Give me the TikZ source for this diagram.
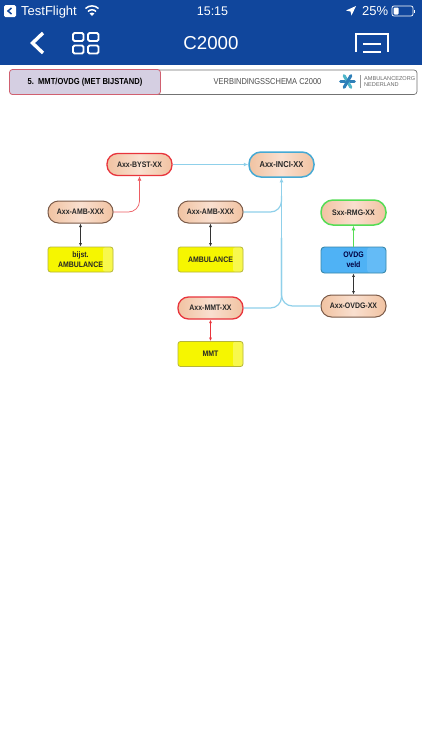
\documentclass[tikz,border=0pt]{standalone}
\usepackage{fontspec}
\setmainfont{Liberation Sans}
\newfontfamily\narrowfont[FakeStretch=0.87]{Liberation Sans}
\usetikzlibrary{arrows.meta,calc}
\definecolor{barblue}{HTML}{10469C}
\definecolor{peach}{HTML}{F1C3A2}
\definecolor{peachlight}{HTML}{F9DFCF}
\definecolor{redline}{HTML}{E8343C}
\definecolor{blueline}{HTML}{45A9D4}
\definecolor{paleblue}{HTML}{8FD0EA}
\definecolor{greenline}{HTML}{55DC55}
\definecolor{brownline}{HTML}{7A5A48}
\definecolor{yel}{HTML}{F6F600}
\definecolor{yelline}{HTML}{B5B53A}
\definecolor{skyb}{HTML}{4FB2F5}
\definecolor{headfill}{HTML}{D5CFE2}
\definecolor{headline}{HTML}{D06070}
\definecolor{logoblue}{HTML}{2E7FB8}
\definecolor{logoteal}{HTML}{4FB5C8}
\tikzset{
  x=1pt,y=-1pt,
  lbl/.style={font=\fontsize{8}{9}\narrowfont\bfseries,text=black!85,align=center,inner sep=0pt},
  pill/.style={lbl,rounded corners=10.5pt,minimum width=65pt,minimum height=22pt,line width=1pt,draw=brownline,
    left color=peach,right color=peach,middle color=peachlight},
  pillred/.style={pill,draw=redline,line width=1.3pt},
  pillblue/.style={pill,draw=blueline,line width=1.5pt,minimum height=25pt,rounded corners=12pt,font=\fontsize{8.6}{10}\narrowfont\bfseries},
  pillgreen/.style={pill,draw=greenline,line width=1.5pt,minimum height=25pt,rounded corners=12pt},
  yellowbox/.style={lbl,rounded corners=2.5pt,minimum width=65pt,minimum height=25pt,line width=.8pt,draw=yelline,fill=yel,
    path picture={\fill[white,opacity=.3] ([xshift=-10pt]path picture bounding box.north east) rectangle (path picture bounding box.south east);}},
  bluebox/.style={lbl,rounded corners=3.5pt,minimum width=65pt,minimum height=26pt,line width=.9pt,draw=blueline!80!black,fill=skyb,text=black!75!blue,
    path picture={\fill[white,opacity=.12] ([xshift=-19pt]path picture bounding box.north east) rectangle (path picture bounding box.south east);}},
  conblack/.style={draw=black!80,line width=.7pt,{Latex[length=3.5pt,width=3pt]}-{Latex[length=3.5pt,width=3pt]}},
  conred/.style={draw=redline!80,line width=.7pt,-{Latex[length=4.5pt,width=4pt]},rounded corners=11pt},
  conblue/.style={draw=paleblue,line width=1.2pt,rounded corners=11pt},
  conbluearrow/.style={draw=paleblue,line width=1.2pt,-{Latex[length=4.5pt,width=4pt,fill=blueline]}},
  icon/.style={draw=white,line width=1.9pt,rounded corners=1.5pt},
  bartext/.style={text=white,inner sep=0pt,anchor=base},
  petal/.style={line width=3pt,line cap=round},
}
\begin{document}
\begin{tikzpicture}
\useasboundingbox (0,0) rectangle (422,750);
\fill[white] (0,0) rectangle (422,750);
\fill[barblue] (0,0) rectangle (422,65);
% status bar
\fill[white,rounded corners=1.5pt] (4,5) rectangle (16,17);
\draw[barblue,line width=1.5pt] (11.5,8) -- (8,11) -- (11.5,14);
\node[bartext,anchor=base west,font=\fontsize{13}{15}\selectfont] (tf) at (21,15.5) {TestFlight};
\draw[white,line width=1.5pt] (85.5,8.5) .. controls (89,5) and (95,5) .. (98.5,8.5);
\draw[white,line width=1.5pt] (88,11.5) .. controls (90,9.2) and (94,9.2) .. (96,11.5);
\fill[white] (92,16) -- (89.6,13.3) .. controls (91,12.3) and (93,12.3) .. (94.4,13.3) -- cycle;
\node[bartext,font=\fontsize{12.5}{15}\selectfont] (clock) at (212.5,15.5) {15:15};
\fill[white] (356,6) -- (346,10.5) -- (350.5,11.5) -- (351.5,15.5) -- cycle;
\node[bartext,anchor=base west,font=\fontsize{13}{15}\selectfont] (pct) at (362,15.5) {25\%};
\draw[white,line width=.7pt,rounded corners=2pt] (392,6) rectangle (413,16);
\fill[white,rounded corners=1pt] (393.5,7.5) rectangle (398.5,14.5);
\fill[white] (414,9.5) rectangle (415.2,12.5);
% nav bar
\draw[white,line width=3.4pt] (43,33) -- (32.5,43) -- (43,53);
\foreach \xa/\ya in {73/33,88/33,73/45.5,88/45.5}{
  \draw[icon] (\xa,\ya) rectangle ++(10.5,8);
}
\node[bartext,font=\fontsize{18.7}{22}\selectfont] (title) at (211,49.5) {C2000};
\draw[white,line width=2pt] (356,52) -- (356,34) -- (388,34) -- (388,52);
\draw[white,line width=2pt] (363,43.5) -- (381,43.5);
\draw[white,line width=2pt] (363,51.5) -- (381,51.5);
% header strip
\draw[black!55,line width=.7pt,rounded corners=3pt] (10,70) rectangle (417,94.5);
\node[rounded corners=3pt,draw=headline,line width=.8pt,fill=headfill,minimum width=151pt,minimum height=25pt,inner sep=0pt,font=\fontsize{8.7}{10}\narrowfont\bfseries] (head) at (85,82) {5.\ \ MMT/OVDG (MET BIJSTAND)};
\node[font=\fontsize{8.6}{10}\narrowfont,text=black!70,inner sep=0pt] (schema) at (267.5,81.5) {VERBINDINGSSCHEMA C2000};
\foreach \a/\c in {0/logoblue,60/logoteal,120/logoblue}{
  \draw[petal,\c] ($(347.5,81.5)+(\a:6.8)$) -- ($(347.5,81.5)+(\a+180:6.8)$);
}
\draw[black!40,line width=.4pt] (360,75) -- (360,88);
\node[anchor=west,font=\fontsize{5.6}{6.5}\selectfont,text=black!60,inner sep=0pt,align=left] (org) at (364,81.5) {AMBULANCEZORG\\NEDERLAND};
% nodes
\node[pillred] (byst) at (139.5,164.5) {Axx-BYST-XX};
\node[pillblue] (inci) at (281.5,164.5) {Axx-INCI-XX};
\node[pill] (amba) at (80.5,212) {Axx-AMB-XXX};
\node[yellowbox] (buse) at (80.5,259.5) {bijst.\\[1pt]AMBULANCE};
\node[pill] (ambb) at (210.5,212) {Axx-AMB-XXX};
\node[yellowbox] (amb) at (210.5,259.5) {AMBULANCE};
\node[pillgreen] (rmg) at (353.5,212.5) {Sxx-RMG-XX};
\node[bluebox] (veld) at (353.5,260) {OVDG\\[1pt]veld};
\node[pill] (ovdg) at (353.5,306) {Axx-OVDG-XX};
\node[pillred] (mmtx) at (210.5,308) {Axx-MMT-XX};
\node[yellowbox] (mmt) at (210.5,354) {MMT};
% connectors
\draw[conred] (amba.east) -| (byst.south);
\draw[conblack] (amba.south) -- (buse.north);
\draw[conblack] (ambb.south) -- (amb.north);
\draw[conbluearrow] (byst.east) -- (inci.west);
\draw[conblue] (ambb.east) -| ([yshift=-18pt]inci.south);
\draw[conblue] (mmtx.east) -| ([yshift=-60pt]inci.south);
\draw[conblue] (ovdg.west) -| ([yshift=-60pt]inci.south);
\draw[conbluearrow] ([yshift=-100pt]inci.south) -- (inci.south);
\draw[draw=greenline,line width=1pt,-{Latex[length=4.5pt,width=4pt]}] (veld.north) -- (rmg.south);
\draw[conblack] (ovdg.north) -- (veld.south);
\draw[draw=redline,line width=.8pt,{Latex[length=3.5pt,width=3pt]}-{Latex[length=3.5pt,width=3pt]}] (mmtx.south) -- (mmt.north);
\end{tikzpicture}
\end{document}
